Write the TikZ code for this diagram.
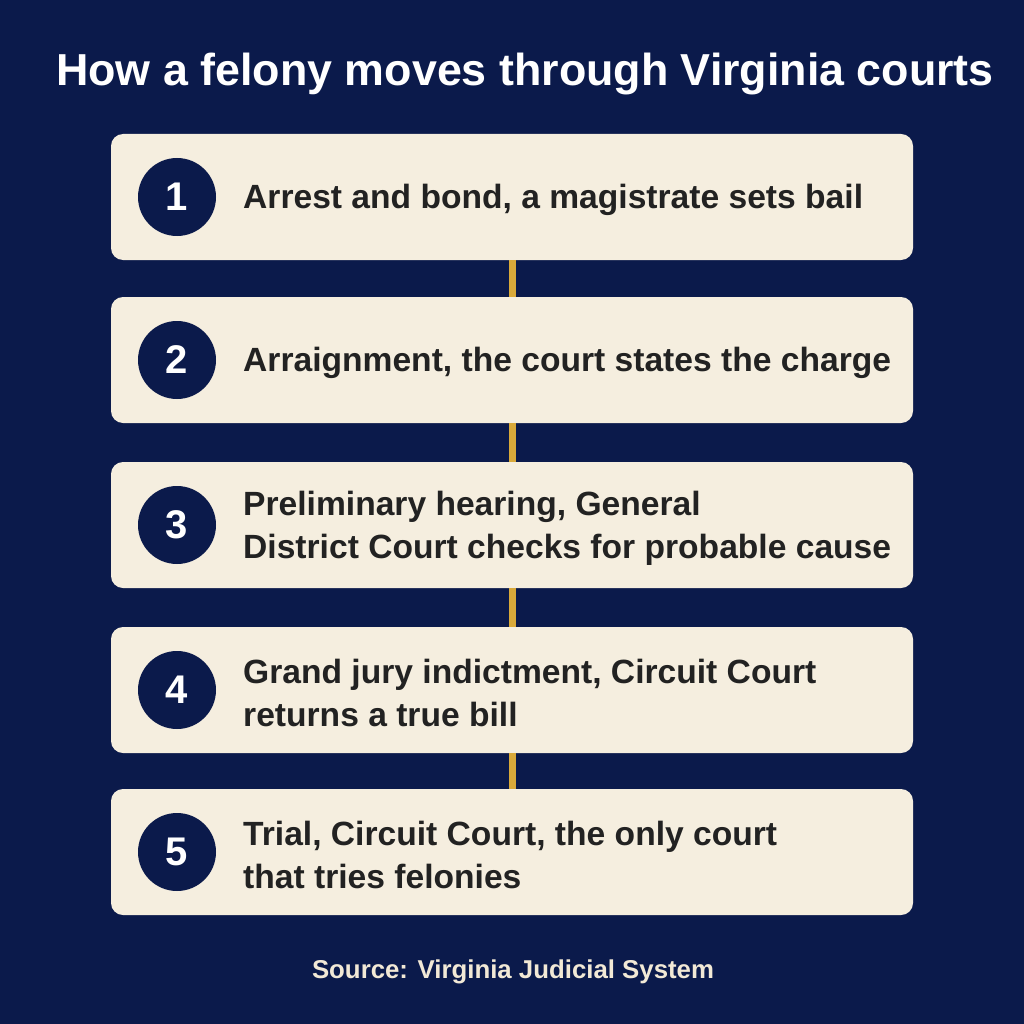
\documentclass[tikz,border=0pt]{standalone}
\usepackage{fontspec}
\setmainfont{Liberation Sans}
\definecolor{navy}{HTML}{0B1A4B}
\definecolor{cream}{HTML}{F5EEDF}
\definecolor{gold}{HTML}{D9A93A}
\definecolor{ink}{HTML}{222222}
\definecolor{srcink}{HTML}{F2E9D6}
\begin{document}
\begin{tikzpicture}[x=1pt,y=-1pt,
    stepbox/.style={rectangle,fill=cream,rounded corners=12pt,minimum width=802pt,minimum height=126pt,inner sep=0pt},
    badge/.style={circle,fill=navy,minimum size=78pt,inner sep=0pt,text=white,font=\bfseries\fontsize{40}{40}\selectfont},
    steptext/.style={anchor=west,align=left,text=ink,inner sep=0pt,font=\bfseries\fontsize{33.6}{43}\selectfont},
    link/.style={draw=gold,line width=7pt}]
  \fill[navy] (0,0) rectangle (1024,1024);
  \useasboundingbox (0,0) rectangle (1024,1024);
  \node[text=white,font=\bfseries\fontsize{44.8}{44.8}\selectfont] (title) at (525,74) {How a felony moves through Virginia courts};
  \draw
    (512,197) node[stepbox] (b1){}
    (512,360) node[stepbox] (b2){}
    (512,525) node[stepbox] (b3){}
    (512,690) node[stepbox] (b4){}
    (512,852) node[stepbox] (b5){};
  \begin{scope}[link]
    \draw (b1.south) to (b2.north);
    \draw (b2.south) to (b3.north);
    \draw (b3.south) to (b4.north);
    \draw (b4.south) to (b5.north);
  \end{scope}
  \draw
    (177,197) node[badge] (n1){1}
    (177,360) node[badge] (n2){2}
    (177,525) node[badge] (n3){3}
    (177,690) node[badge] (n4){4}
    (177,852) node[badge] (n5){5};
  \draw
    (243,200) node[steptext] (t1){Arrest and bond, a magistrate sets bail}
    (243,363) node[steptext] (t2){Arraignment, the court states the charge}
    (243,528) node[steptext] (t3){Preliminary hearing, General\\District Court checks for probable cause}
    (243,693) node[steptext] (t4){Grand jury indictment, Circuit Court\\returns a true bill}
    (243,855) node[steptext] (t5){Trial, Circuit Court, the only court\\that tries felonies};
  \node[text=srcink,font=\bfseries\fontsize{25.8}{25.8}\selectfont] (src) at (513,972) {Source: Virginia Judicial System};
\end{tikzpicture}
\end{document}
